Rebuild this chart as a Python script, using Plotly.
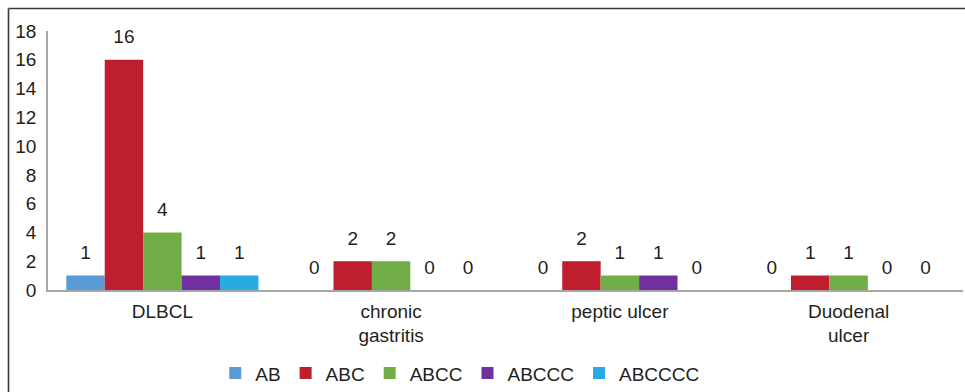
import plotly.graph_objects as go

categories = ["DLBCL", "chronic<br>gastritis", "peptic ulcer", "Duodenal<br>ulcer"]
series_names = ["AB", "ABC", "ABCC", "ABCCC", "ABCCCC"]
ab = [1, 0, 0, 0]
abc = [16, 2, 2, 1]
abcc = [4, 2, 1, 1]
abccc = [1, 0, 1, 0]
abcccc = [1, 0, 0, 0]
series_values = [ab, abc, abcc, abccc, abcccc]
colors = ["#5B9BD5", "#BE1E2D", "#70AD47", "#7030A0", "#29ABE2"]
y_ticks = list(range(0, 19, 2))

W, H = 965, 392
ml, mr, mt, mb = 48, 2, 31, 102
FONT = "Arial, Liberation Sans, sans-serif"
FS = 19

fig = go.Figure()
for i, (name, vals, col) in enumerate(zip(series_names, series_values, colors)):
    fig.add_trace(go.Bar(
        x=categories, y=vals, name=name, marker=dict(color=col, line=dict(width=0)),
        offsetgroup=str(i), alignmentgroup="a",
    ))
for i, (name, vals) in enumerate(zip(series_names, series_values)):
    fig.add_trace(go.Scatter(
        x=categories, y=vals, mode="markers+text", text=[str(v) for v in vals],
        textposition="top center", marker=dict(size=17, opacity=0),
        textfont=dict(size=FS, color="#231F20", family=FONT),
        offsetgroup=str(i), alignmentgroup="a", showlegend=False, cliponaxis=False,
        hoverinfo="skip",
    ))

pw = W - ml - mr
ph = H - mt - mb
px = lambda p: (p - ml) / pw
py = lambda p: ((H - mb) - p) / ph
border = dict(color="#3A3A3A", width=1.6)
fig.add_shape(type="line", xref="paper", yref="paper",
              x0=px(8.5), x1=px(W + 5), y0=py(8.5), y1=py(8.5), line=border, layer="below")
fig.add_shape(type="line", xref="paper", yref="paper",
              x0=px(8.5), x1=px(8.5), y0=py(8.5), y1=py(H + 5), line=border, layer="below")

fig.update_layout(
    width=W, height=H,
    margin=dict(l=ml, r=mr, t=mt, b=mb, autoexpand=False),
    paper_bgcolor="white", plot_bgcolor="white",
    barmode="group", bargap=0.16, bargroupgap=0,
    scattermode="group", scattergap=0.16,
    font=dict(family=FONT, size=FS, color="#231F20"),
    showlegend=True,
    legend=dict(orientation="h", x=0.45, xanchor="center", y=-0.248, yanchor="top",
                font=dict(size=FS), itemwidth=30, tracegroupgap=0),
)
fig.update_xaxes(showline=True, linecolor="#A6A6A6", linewidth=1.5, ticks="",
                 showgrid=False, tickfont=dict(size=FS), automargin=False,
                 ticklabelstandoff=3)
fig.update_yaxes(range=[0, 18], tickvals=y_ticks, showline=True, linecolor="#A6A6A6",
                 linewidth=1.5, ticks="", showgrid=False, zeroline=False,
                 tickfont=dict(size=FS), ticklabelstandoff=6, automargin=False)

fig.write_html("out.html", config={"displayModeBar": False},
               post_script="document.body.style.margin='0';document.body.style.overflow='hidden';")
